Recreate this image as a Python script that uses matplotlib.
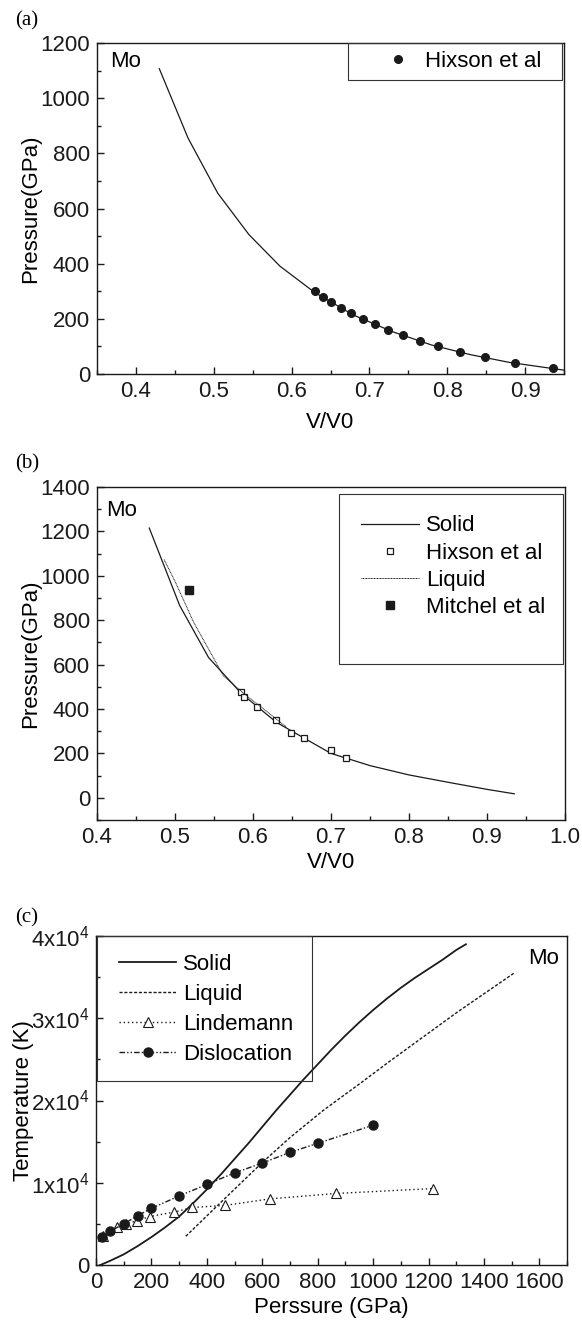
import numpy as np
import matplotlib
matplotlib.use("Agg")
import matplotlib.pyplot as plt
from matplotlib.patches import Rectangle
from matplotlib.ticker import MultipleLocator, FuncFormatter

plt.rcParams['font.family'] = ['Liberation Sans', 'DejaVu Sans']
plt.rcParams['mathtext.fontset'] = 'custom'
plt.rcParams['mathtext.rm'] = 'Liberation Sans'
plt.rcParams['mathtext.default'] = 'regular'

# (a) shock Hugoniot of Mo
a_solid_v = [0.43, 0.467, 0.505, 0.545, 0.585, 0.63, 0.68, 0.73, 0.78, 0.83, 0.88, 0.95]
a_solid_p = [1107, 855, 656, 506, 391, 295, 213, 153, 105, 70, 42, 14]
a_hix_v = [0.630, 0.6405, 0.651, 0.6638, 0.6767, 0.6914, 0.7067, 0.7243, 0.7433,
           0.7648, 0.7886, 0.8167, 0.848, 0.887, 0.9357]
a_hix_p = [300, 280, 260, 240, 220, 200, 180, 160, 140, 120, 100, 80, 60, 40, 20]

# (b) solid / liquid hugoniot
b_solid_v = [0.467, 0.506, 0.543, 0.585, 0.63, 0.665, 0.70, 0.75, 0.80, 0.85, 0.90, 0.935]
b_solid_p = [1215, 866, 632, 470, 340, 270, 200, 145, 103, 70, 38, 18]
b_liq_v = [0.486, 0.50, 0.524, 0.562, 0.59, 0.61, 0.643]
b_liq_p = [1073, 975, 790, 550, 465, 410, 318]
b_hix_v = [0.5848, 0.589, 0.6057, 0.629, 0.6486, 0.6652, 0.70, 0.7195]
b_hix_p = [477, 456, 411, 349, 294, 271, 215, 178]
b_mit_v = [0.5176]
b_mit_p = [938]

# (c) melting curves
c_solid_p = [15, 50, 100, 150, 200, 250, 300, 350, 400, 450, 500, 550, 600, 650, 700,
             750, 800, 850, 900, 950, 1000, 1050, 1100, 1150, 1200, 1250, 1300, 1335]
c_solid_t = [0, 500, 1300, 2300, 3400, 4600, 5900, 7500, 9200, 11000, 12900, 14800,
             16800, 18800, 20700, 22600, 24400, 26200, 27900, 29500, 31000, 32400,
             33700, 34900, 36000, 37100, 38300, 39000]
c_liq_p = [324, 459, 598, 700, 820, 950, 1061, 1200, 1302, 1509]
c_liq_t = [3500, 7900, 12400, 15500, 18800, 22000, 24800, 28200, 30700, 35500]
c_lind_p = [25, 75, 108, 147, 195, 283, 348, 466, 628, 865, 1215]
c_lind_t = [3500, 4650, 5000, 5400, 5900, 6450, 7000, 7250, 8050, 8700, 9300]
c_disl_p = [20, 50, 100, 150, 200, 300, 400, 500, 600, 700, 800, 1000]
c_disl_t = [3400, 4100, 5000, 6000, 6900, 8400, 9800, 11200, 12400, 13700, 14800, 17000]

FS = 16
INK = '#1a1a1a'


def style_axes(ax):
    for s in ax.spines.values():
        s.set_linewidth(1.0)
        s.set_color(INK)
    ax.tick_params(which='both', direction='in', top=False, right=False,
                   labelsize=FS, colors=INK, width=1.0)
    ax.tick_params(which='major', length=5, pad=5)
    ax.tick_params(which='minor', length=3)


def box(ax, x0, y0, x1, y1, lw=0.8):
    ax.add_patch(Rectangle((x0, y0), x1 - x0, y1 - y0, transform=ax.transAxes,
                           fill=False, lw=lw, ec='#333333', zorder=5, clip_on=False))


fig = plt.figure(figsize=(5.82, 13.23), dpi=100)

# ---------------- (a)
ax = fig.add_axes([0.1667, 0.7173, 0.8024, 0.2502])
ax.plot(a_solid_v, a_solid_p, color=INK, lw=0.9)
ax.plot(a_hix_v, a_hix_p, 'o', color=INK, ms=5.5, ls='none', label='Hixson et al')
ax.set_xlim(0.35, 0.95)
ax.set_ylim(0, 1200)
ax.xaxis.set_major_locator(MultipleLocator(0.1))
ax.xaxis.set_minor_locator(MultipleLocator(0.05))
ax.yaxis.set_major_locator(MultipleLocator(200))
ax.yaxis.set_minor_locator(MultipleLocator(100))
ax.xaxis.set_major_formatter(FuncFormatter(lambda v, p: f"{v:.1f}"))
style_axes(ax)
ax.set_xlabel('V/V0', fontsize=FS)
ax.set_ylabel('Pressure(GPa)', fontsize=FS)
ax.xaxis.set_label_coords(0.5, -0.115)
ax.yaxis.set_label_coords(-0.12, 0.5)
ax.text(0.028, 0.975, 'Mo', transform=ax.transAxes, fontsize=FS, ha='left', va='top')
box(ax, 0.537, 0.888, 0.996, 1.0)
ax.legend(loc='center left', bbox_to_anchor=(0.62, 0.944), frameon=False, fontsize=FS,
          handlelength=1.0, handletextpad=0.75, borderpad=0, borderaxespad=0)

# ---------------- (b)
ax = fig.add_axes([0.1667, 0.3802, 0.804, 0.2517])
ax.plot(b_solid_v, b_solid_p, color=INK, lw=0.9, label='Solid')
ax.plot(b_hix_v, b_hix_p, 's', mfc='white', mec=INK, mew=0.9, ms=5, ls='none', label='Hixson et al')
ax.plot(b_liq_v, b_liq_p, color=INK, lw=0.7, ls=(0, (1, 0.6)), label='Liquid')
ax.plot(b_mit_v, b_mit_p, 's', color=INK, ms=5.5, ls='none', label='Mitchel et al')
ax.set_xlim(0.4, 1.0)
ax.set_ylim(-100, 1400)
ax.xaxis.set_major_locator(MultipleLocator(0.1))
ax.xaxis.set_minor_locator(MultipleLocator(0.05))
ax.yaxis.set_major_locator(MultipleLocator(200))
ax.yaxis.set_minor_locator(MultipleLocator(100))
ax.xaxis.set_major_formatter(FuncFormatter(lambda v, p: f"{v:.1f}"))
style_axes(ax)
ax.set_xlabel('V/V0', fontsize=FS)
ax.set_ylabel('Pressure(GPa)', fontsize=FS)
ax.xaxis.set_label_coords(0.5, -0.097)
ax.yaxis.set_label_coords(-0.12, 0.5)
ax.text(0.019, 0.96, 'Mo', transform=ax.transAxes, fontsize=FS, ha='left', va='top')
box(ax, 0.517, 0.468, 0.996, 0.98)
ax.legend(loc='upper left', bbox_to_anchor=(0.565, 0.915), frameon=False, fontsize=FS,
          handlelength=2.6, handletextpad=0.3, labelspacing=0.28, borderpad=0, borderaxespad=0)

# ---------------- (c)
ax = fig.add_axes([0.165, 0.0438, 0.8093, 0.2487])
ax.plot(c_solid_p, c_solid_t, color=INK, lw=1.3, label='Solid')
ax.plot(c_liq_p, c_liq_t, color=INK, lw=1.0, ls=(0, (2.2, 1.3)), label='Liquid')
ax.plot(c_lind_p, c_lind_t, color=INK, lw=1.0, ls=(0, (1, 2)), marker='^', mfc='white',
        mec=INK, mew=0.8, ms=7, label='Lindemann')
ax.plot(c_disl_p, c_disl_t, color=INK, lw=1.0, ls=(0, (4, 1.5, 1, 1.5, 1, 1.5)), marker='o',
        ms=6.5, label='Dislocation')
ax.set_xlim(0, 1700)
ax.set_ylim(0, 40000)
ax.xaxis.set_major_locator(MultipleLocator(200))
ax.xaxis.set_minor_locator(MultipleLocator(100))
ax.yaxis.set_major_locator(MultipleLocator(10000))
ax.yaxis.set_minor_locator(MultipleLocator(5000))
ax.yaxis.set_major_formatter(FuncFormatter(
    lambda v, p: '0' if v == 0 else f"{int(round(v / 1e4))}x10$^{{4}}$"))
style_axes(ax)
ax.set_xlabel('Perssure (GPa)', fontsize=FS)
ax.set_ylabel('Temperature (K)', fontsize=FS)
ax.xaxis.set_label_coords(0.5, -0.097)
ax.yaxis.set_label_coords(-0.132, 0.5)
ax.text(0.983, 0.963, 'Mo', transform=ax.transAxes, fontsize=FS, ha='right', va='top')
box(ax, 0.002, 0.56, 0.458, 1.0)
ax.legend(loc='upper left', bbox_to_anchor=(0.048, 0.945), frameon=False, fontsize=FS,
          handlelength=2.6, handletextpad=0.3, labelspacing=0.4, borderpad=0, borderaxespad=0)

# panel labels
for lab, ypix in [('(a)', 21), ('(b)', 464), ('(c)', 918)]:
    fig.text(15 / 582, 1 - ypix / 1323, lab, fontsize=15, family='Liberation Serif',
             ha='left', va='center')

fig.savefig('out.png', dpi=100)
